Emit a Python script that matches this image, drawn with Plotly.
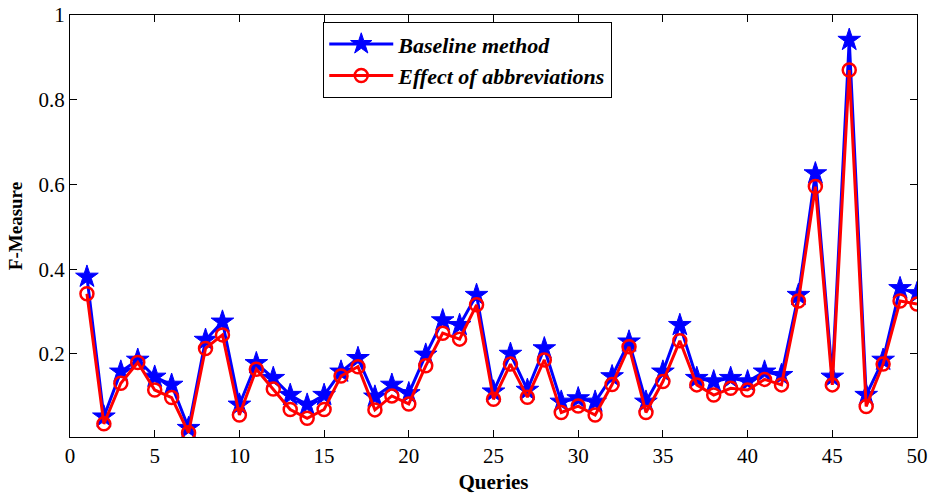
import plotly.graph_objects as go

queries = list(range(1, 51))
baseline = [0.382, 0.052, 0.158, 0.186, 0.146, 0.127, 0.025, 0.233, 0.276, 0.080,
            0.178, 0.143, 0.103, 0.080, 0.103, 0.158, 0.190, 0.099, 0.127, 0.107,
            0.198, 0.279, 0.268, 0.339, 0.111, 0.200, 0.115, 0.213, 0.087, 0.095,
            0.087, 0.147, 0.229, 0.087, 0.158, 0.268, 0.143, 0.135, 0.143, 0.135,
            0.158, 0.150, 0.339, 0.626, 0.146, 0.941, 0.103, 0.186, 0.355, 0.343]
abbrev = [0.342, 0.035, 0.131, 0.180, 0.115, 0.097, 0.014, 0.213, 0.245, 0.056,
          0.164, 0.117, 0.069, 0.048, 0.069, 0.148, 0.170, 0.068, 0.101, 0.082,
          0.172, 0.249, 0.235, 0.316, 0.093, 0.176, 0.098, 0.186, 0.062, 0.077,
          0.056, 0.128, 0.217, 0.062, 0.135, 0.231, 0.127, 0.103, 0.119, 0.115,
          0.140, 0.127, 0.325, 0.595, 0.127, 0.870, 0.076, 0.176, 0.325, 0.318]

xticks = [0, 5, 10, 15, 20, 25, 30, 35, 40, 45, 50]
yticks = [0.2, 0.4, 0.6, 0.8, 1.0]
ytick_text = ["0.2", "0.4", "0.6", "0.8", "1"]

serif = "Liberation Serif"

fig = go.Figure()
fig.add_trace(go.Scatter(
    x=queries, y=baseline, mode="lines+markers", name="Baseline method",
    line=dict(color="#0000ff", width=3),
    marker=dict(symbol="star", size=17, color="#0000ff",
                line=dict(color="#0000ff", width=1)),
))
fig.add_trace(go.Scatter(
    x=queries, y=abbrev, mode="lines+markers", name="Effect of abbreviations",
    line=dict(color="#ff0000", width=3),
    marker=dict(symbol="circle-open", size=13, color="#ff0000",
                line=dict(color="#ff0000", width=2.5)),
))

axis_common = dict(
    showline=True, linecolor="black", linewidth=1.3, mirror="ticks",
    ticks="inside", ticklen=7, tickcolor="black", tickwidth=1,
    showgrid=False, zeroline=False, automargin=False,
    tickfont=dict(family=serif, size=21, color="black"),
)

fig.update_layout(
    width=931, height=494,
    margin=dict(l=70, r=14, t=15, b=57, autoexpand=False),
    paper_bgcolor="white", plot_bgcolor="white",
    font=dict(family=serif, color="black"),
    showlegend=True,
    legend=dict(
        x=0.299, y=0.983, xanchor="left", yanchor="top",
        bgcolor="white", bordercolor="black", borderwidth=1,
        font=dict(family=serif, size=22, color="black", style="italic", weight="bold"),
        itemwidth=64, tracegroupgap=0,
    ),
    xaxis=dict(range=[0, 50], tickvals=xticks,
               title=dict(text="<b>Queries</b>", standoff=14,
                          font=dict(family=serif, size=21, color="black")),
               **axis_common),
    yaxis=dict(range=[0.004, 1.0], tickvals=yticks, ticktext=ytick_text,
               title=dict(text="<b>F-Measure</b>", standoff=10,
                          font=dict(family=serif, size=19, color="black")),
               **axis_common),
)

fig.write_html("out.html")
